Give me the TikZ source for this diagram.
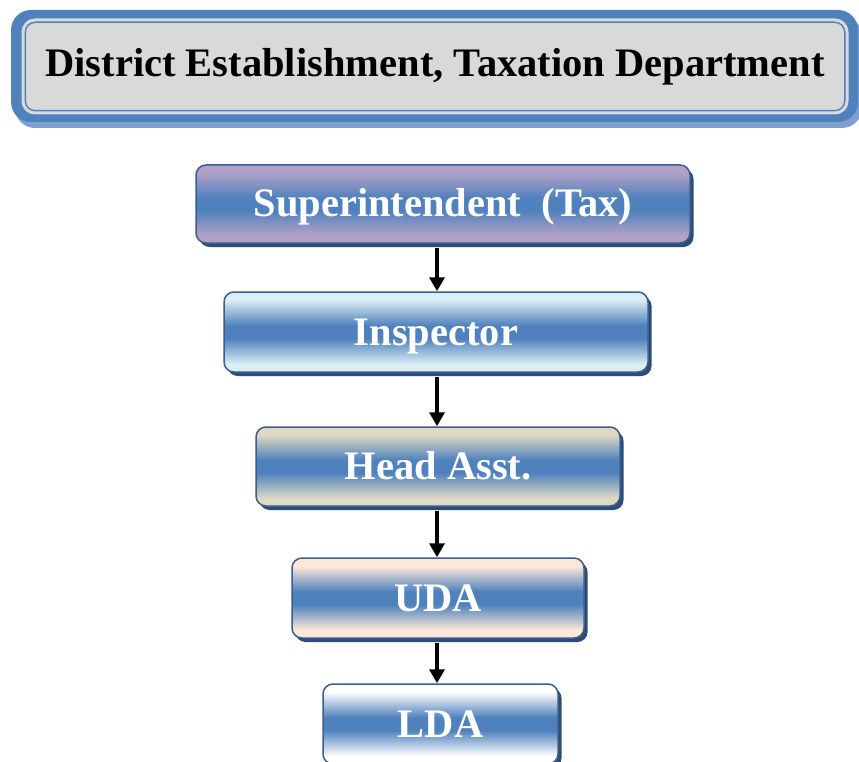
\documentclass[tikz,border=0pt]{standalone}
\usepackage{fontspec}
\setmainfont{Liberation Serif}
\usetikzlibrary{arrows.meta,shadows}
\definecolor{cblue}{HTML}{4F81BD}
\definecolor{cborder}{HTML}{3A5F8F}
\definecolor{cshadow}{HTML}{2E4D76}
\definecolor{ctshadow}{HTML}{7FA0CF}
\definecolor{cgray}{HTML}{D9D9D9}
\definecolor{cpurple}{HTML}{B2A1C7}
\definecolor{clight}{HTML}{DAEEF3}
\definecolor{ctan}{HTML}{DDD9C3}
\definecolor{cpeach}{HTML}{FDE9D9}
\definecolor{cwhite}{HTML}{FFFFFF}
\pgfdeclareverticalshading{shpurple}{100bp}{color(0bp)=(cpurple); color(30bp)=(cpurple); color(46bp)=(cblue); color(54bp)=(cblue); color(70bp)=(cpurple); color(100bp)=(cpurple)}
\pgfdeclareverticalshading{shlight}{100bp}{color(0bp)=(clight); color(30bp)=(clight); color(46bp)=(cblue); color(54bp)=(cblue); color(70bp)=(clight); color(100bp)=(clight)}
\pgfdeclareverticalshading{shtan}{100bp}{color(0bp)=(ctan); color(30bp)=(ctan); color(46bp)=(cblue); color(54bp)=(cblue); color(70bp)=(ctan); color(100bp)=(ctan)}
\pgfdeclareverticalshading{shpeach}{100bp}{color(0bp)=(cpeach); color(30bp)=(cpeach); color(46bp)=(cblue); color(54bp)=(cblue); color(70bp)=(cpeach); color(100bp)=(cpeach)}
\pgfdeclareverticalshading{shwhite}{100bp}{color(0bp)=(cwhite); color(30bp)=(cwhite); color(46bp)=(cblue); color(54bp)=(cblue); color(70bp)=(cwhite); color(100bp)=(cwhite)}
\begin{document}
\begin{tikzpicture}[x=1pt,y=1pt,
  rankbox/.style={draw=cborder, line width=1.5pt, rounded corners=10pt,
    shade, shading angle=0,
    drop shadow={shadow xshift=3.5pt, shadow yshift=-4pt, fill=cshadow, opacity=1},
    text=white, font=\bfseries\fontsize{40.5}{48}\selectfont,
    text height=31pt, text depth=5pt, inner sep=0pt},
  arr/.style={line width=3.8pt, -{Triangle[length=14pt,width=15pt]}, shorten <=4pt}]
\clip (0,0) rectangle (859,-762);
% title
\node[fill=ctshadow, rounded corners=20pt, minimum width=847pt, minimum height=112pt, inner sep=0pt] (tshadow) at (438.5,-72) {};
\node[fill=cblue, rounded corners=20pt, minimum width=847pt, minimum height=112pt, inner sep=0pt] (touter) at (434.5,-66) {};
\node[fill=cgray, draw=cblue, line width=1.5pt, double=cgray, double distance=3pt, rounded corners=12pt,
  minimum width=824pt, minimum height=93pt, inner sep=0pt,
  font=\bfseries\fontsize{40.5}{48}\selectfont] (title) at (435,-66.5) {District Establishment, Taxation Department};
% boxes
\node[rankbox, shading=shpurple, minimum width=494pt, minimum height=78pt] (b1) at (443,-204) {Superintendent\ \ (Tax)};
\node[rankbox, shading=shlight, minimum width=424pt, minimum height=80pt] (b2) at (436,-332) {Inspector};
\node[rankbox, shading=shtan, minimum width=364pt, minimum height=79pt] (b3) at (438,-466.5) {Head Asst.};
\node[rankbox, shading=shpeach, minimum width=292pt, minimum height=80pt] (b4) at (438,-598) {UDA};
\node[rankbox, shading=shwhite, minimum width=235pt, minimum height=80pt] (b5) at (440.5,-724) {LDA};
% arrows
\coordinate (ax) at (437,0);
\draw[arr] (b1.south -| ax) -- (b2.north -| ax);
\draw[arr] (b2.south -| ax) -- (b3.north -| ax);
\draw[arr] (b3.south -| ax) -- (b4.north -| ax);
\draw[arr] (b4.south -| ax) -- (b5.north -| ax);
\end{tikzpicture}
\end{document}
